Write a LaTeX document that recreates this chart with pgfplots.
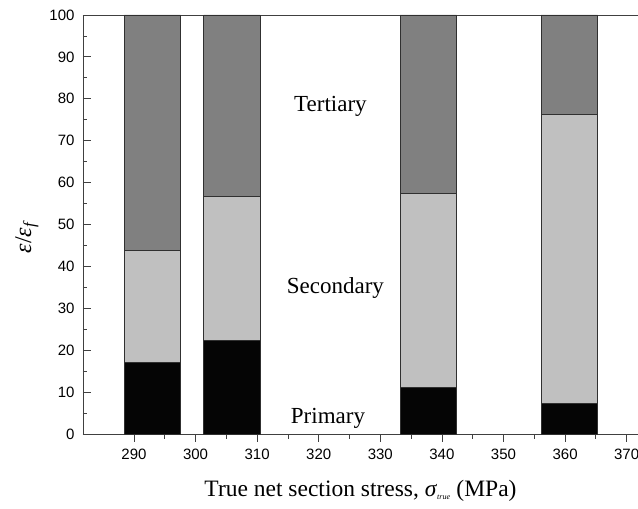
\documentclass[border=0pt]{standalone}
\usepackage{fontspec}
\setmainfont{Liberation Serif}
\newfontfamily\sansf{Liberation Sans}
\usepackage{pgfplots}
\pgfplotsset{compat=1.18}
\definecolor{tert}{HTML}{808080}
\definecolor{seco}{HTML}{C0C0C0}
\definecolor{prim}{HTML}{050505}
\definecolor{edge}{HTML}{303030}
\begin{document}
\begin{tikzpicture}
\begin{axis}[
  scale only axis,
  width=555pt, height=419pt,
  xmin=281.72, xmax=371.84,
  ymin=0, ymax=100,
  axis x line*=bottom, axis y line*=left,
  axis line style={black!75, line width=0.8pt},
  ybar stacked,
  bar width=9.15,
  xtick={290,300,...,370},
  ytick={0,10,...,100},
  minor x tick num=1, minor y tick num=1,
  tick align=inside,
  major tick length=7.7pt, minor tick length=4.5pt,
  tick style={black!75, line width=0.8pt},
  major x tick style={yshift=-7.7pt},
  minor x tick style={yshift=-4.5pt},
  /pgf/number format/assume math mode=true,
  ticklabel style={font=\sansf\fontsize{15}{17}\selectfont},
  xticklabel style={yshift=-11.5pt},
  yticklabel style={xshift=-5pt},
  xlabel={True net section stress, \textit{σ}\textsubscript{\textit{\footnotesize true}} (MPa)},
  xlabel style={font=\fontsize{23.5}{26}\selectfont, at={(axis description cs:0.5,0)}, anchor=base, yshift=-62pt},
  ylabel={\textit{ε}/\textit{ε}\textsubscript{\textit{f}}},
  ylabel style={font=\fontsize{24}{26}\selectfont, at={(axis description cs:-0.101,0.47)}, anchor=center},
  clip=false,
]
\addplot[fill=prim, draw=edge, line width=0.8pt] coordinates {
  (293.0,17.1) (305.9,22.3) (337.8,11.2) (360.7,7.2)
};
\addplot[fill=seco, draw=edge, line width=0.8pt] coordinates {
  (293.0,26.6) (305.9,34.5) (337.8,46.3) (360.7,69.1)
};
\addplot[fill=tert, draw=edge, line width=0.8pt] coordinates {
  (293.0,56.3) (305.9,43.2) (337.8,42.5) (360.7,23.7)
};
\draw[black!75, line width=0.8pt] (rel axis cs:0,1) -- (rel axis cs:1,1);
\node[font=\fontsize{23}{26}\selectfont, anchor=base] at (axis cs:321.9,76.9) {Tertiary};
\node[font=\fontsize{23}{26}\selectfont, anchor=base] at (axis cs:322.7,33.6) {Secondary};
\node[font=\fontsize{23}{26}\selectfont, anchor=base] at (axis cs:321.5,2.6) {Primary};
\end{axis}
\pgfresetboundingbox
\path[use as bounding box] (-83pt,-75pt) rectangle (555pt,434pt);
\end{tikzpicture}
\end{document}
